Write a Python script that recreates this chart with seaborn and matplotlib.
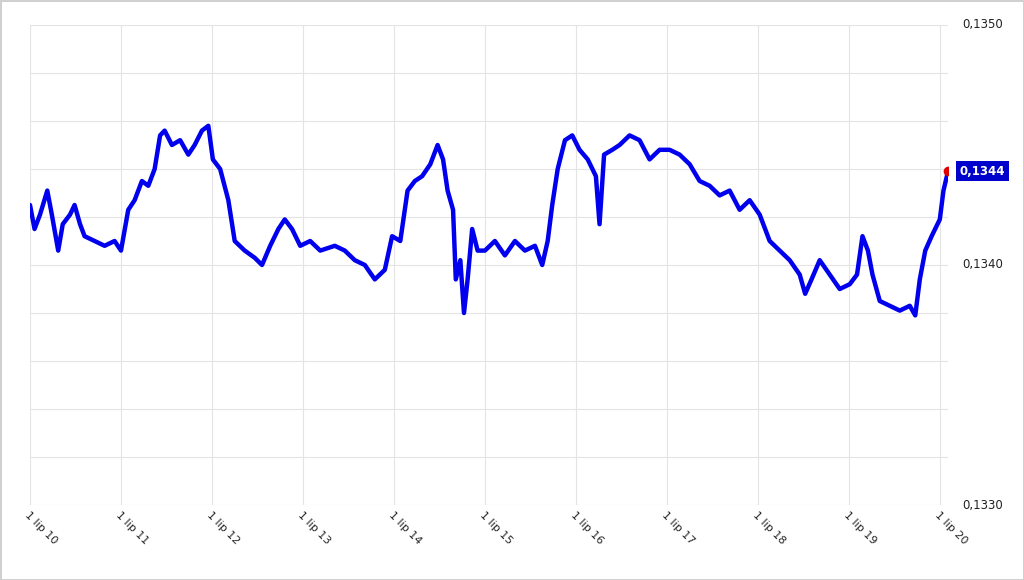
import matplotlib
matplotlib.use("Agg")
import matplotlib.pyplot as plt
import seaborn as sns
import pandas as pd

years = [10.00,10.05,10.11,10.19,10.24,10.31,10.36,10.44,10.49,10.55,10.60,10.71,10.82,10.93,11.00,11.08,11.15,11.23,11.30,11.37,
         11.43,11.48,11.56,11.65,11.74,11.81,11.89,11.96,12.01,12.09,12.18,12.25,12.36,12.47,12.55,12.64,12.73,12.80,12.88,12.97,
         13.08,13.19,13.35,13.46,13.57,13.68,13.79,13.90,13.98,14.07,14.15,14.23,14.31,14.40,14.48,14.54,14.59,14.65,14.68,14.73,
         14.77,14.81,14.86,14.92,15.00,15.11,15.22,15.33,15.44,15.55,15.63,15.69,15.74,15.80,15.88,15.96,16.04,16.13,16.22,16.26,
         16.31,16.40,16.48,16.59,16.70,16.81,16.92,17.03,17.14,17.25,17.36,17.47,17.58,17.69,17.80,17.91,18.02,18.13,18.24,18.35,
         18.46,18.52,18.59,18.68,18.79,18.90,19.01,19.09,19.15,19.21,19.26,19.34,19.45,19.56,19.67,19.73,19.78,19.84,19.91,20.00,
         20.04,20.09]
rates = [0.13425,0.13415,0.13421,0.13431,0.13421,0.13406,0.13417,0.13421,0.13425,0.13417,0.13412,0.13410,0.13408,0.13410,0.13406,0.13423,0.13427,0.13435,0.13433,0.13440,
         0.13454,0.13456,0.13450,0.13452,0.13446,0.13450,0.13456,0.13458,0.13444,0.13440,0.13427,0.13410,0.13406,0.13403,0.13400,0.13408,0.13415,0.13419,0.13415,0.13408,
         0.13410,0.13406,0.13408,0.13406,0.13402,0.13400,0.13394,0.13398,0.13412,0.13410,0.13431,0.13435,0.13437,0.13442,0.13450,0.13444,0.13431,0.13423,0.13394,0.13402,
         0.13380,0.13394,0.13415,0.13406,0.13406,0.13410,0.13404,0.13410,0.13406,0.13408,0.13400,0.13410,0.13425,0.13440,0.13452,0.13454,0.13448,0.13444,0.13437,0.13417,
         0.13446,0.13448,0.13450,0.13454,0.13452,0.13444,0.13448,0.13448,0.13446,0.13442,0.13435,0.13433,0.13429,0.13431,0.13423,0.13427,0.13421,0.13410,0.13406,0.13402,
         0.13396,0.13388,0.13394,0.13402,0.13396,0.13390,0.13392,0.13396,0.13412,0.13406,0.13396,0.13385,0.13383,0.13381,0.13383,0.13379,0.13394,0.13406,0.13412,0.13419,
         0.13431,0.13439]
tick_years = list(range(10, 21))
tick_labels = [f"1 lip {y}" for y in tick_years]
ytick_vals = [0.1330, 0.1340, 0.1350]
ytick_labels = ["0,1330", "0,1340", "0,1350"]
last_label = "0,1344"

sns.set_theme(style="white")
fig = plt.figure(figsize=(10.24, 5.8), dpi=100)
fig.patch.set_edgecolor("#d0d0d0"); fig.patch.set_linewidth(2)
ax = fig.add_axes([30/1024, 75/580, 918/1024, 480/580])
df = pd.DataFrame({"t": years, "v": rates})
sns.lineplot(data=df, x="t", y="v", ax=ax, color="#0000ee", linewidth=3.2)
ax.plot(years[-1], rates[-1], "o", color="#e00000", ms=6, zorder=5)
ax.set_xlim(10, 20.09)
ax.set_ylim(0.1330, 0.1350)
ax.set_xticks(tick_years)
ax.set_xticklabels(tick_labels, rotation=-45, ha="left", va="top", rotation_mode="anchor", fontsize=8)
import numpy as np
ax.set_yticks(np.arange(11) * 0.0002 + 0.1330, minor=False)
ax.set_yticklabels(["" for _ in range(11)])
ax.grid(True, color="#e4e4e4", linewidth=0.8)
for s in ax.spines.values():
    s.set_visible(False)
ax.tick_params(length=0)
ax.set_xlabel(""); ax.set_ylabel("")
for v, l in zip(ytick_vals, ytick_labels):
    ax.text(1.015, (v - 0.1330) / 0.002, l, transform=ax.transAxes, fontsize=8.5, va="center", ha="left", color="#222222")
ax.text(1.013, (rates[-1] - 0.1330) / 0.002, last_label, transform=ax.transAxes, fontsize=8.5, va="center", ha="left",
        color="white", fontweight="bold", bbox=dict(boxstyle="square,pad=0.3", fc="#0000cc", ec="none"))
fig.savefig("out.png", dpi=100)
